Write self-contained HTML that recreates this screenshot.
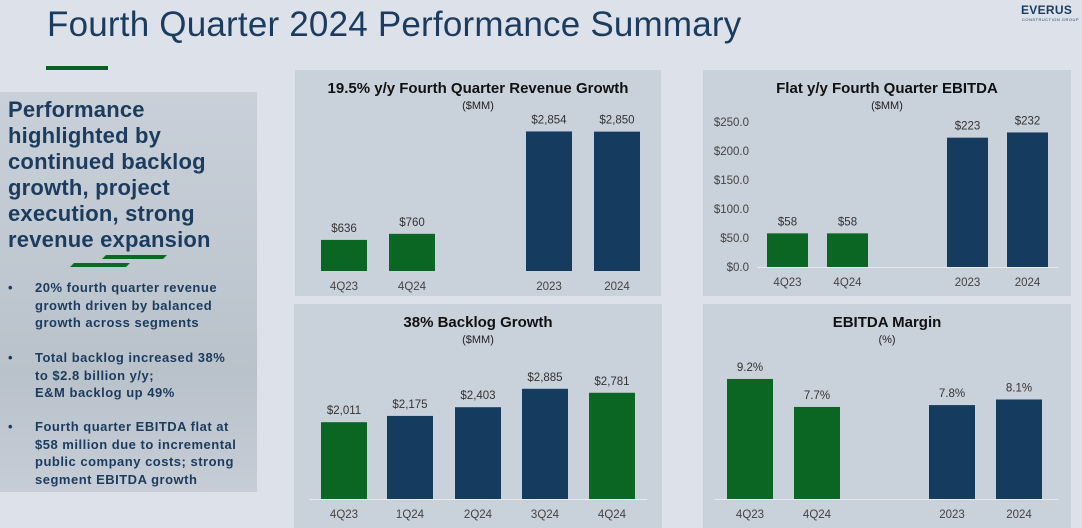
<!DOCTYPE html>
<html><head><meta charset="utf-8"><style>
html,body{margin:0;padding:0}
body{width:1082px;height:528px;background:#dde2ea;position:relative;overflow:hidden;font-family:"Liberation Sans",sans-serif}
#title{position:absolute;left:47px;top:5px;font-size:35px;color:#1b3c5e;white-space:nowrap;letter-spacing:0.2px}
#gl{position:absolute;left:46px;top:66px;width:62px;height:4px;background:#0b5e23}
#logo{position:absolute;left:1021px;top:3px;color:#1b3c5e;font-weight:bold;font-size:12px;letter-spacing:0.3px}
#logo2{position:absolute;left:1022px;top:17px;color:#1b3c5e;font-size:4px;letter-spacing:0.5px}
#left{position:absolute;left:0;top:92px;width:257px;height:400px;background:linear-gradient(180deg,#c9d0d9 0%,#bfc7d0 45%,#b9c1ca 70%,#c6cdd6 100%)}
#lh{position:absolute;left:8px;top:5px;font-size:22px;line-height:26px;font-weight:bold;color:#1b3c5e;letter-spacing:0.2px}
.b{position:absolute;left:8px;font-size:13px;line-height:17.5px;font-weight:bold;color:#1b3c5e;letter-spacing:0.5px}
.b span{position:absolute;left:0}
.b div{margin-left:27px;width:210px}
</style></head><body>
<div id="title">Fourth Quarter 2024 Performance Summary</div>
<div id="gl"></div>
<div id="logo">EVERUS</div>
<div id="logo2">CONSTRUCTION GROUP</div>
<div id="left">
<div id="lh">Performance<br>highlighted by<br>continued backlog<br>growth, project<br>execution, strong<br>revenue expansion</div>
<svg style="position:absolute;left:70px;top:162px" width="100" height="14"><polygon points="36,1 97,1 93,5 32,5" fill="#0b6a22"/><polygon points="4,9 60,9 56,13 0,13" fill="#0b6a22"/></svg>
<div class="b" style="top:187px"><span>•</span><div>20% fourth quarter revenue growth driven by balanced growth across segments</div></div>
<div class="b" style="top:257px"><span>•</span><div>Total backlog increased 38%<br>to $2.8 billion y/y;<br>E&amp;M backlog up 49%</div></div>
<div class="b" style="top:326px"><span>•</span><div>Fourth quarter EBITDA flat at $58 million due to incremental public company costs; strong segment EBITDA growth</div></div>
</div>
<svg id="charts" width="1082" height="528" style="position:absolute;left:0;top:0"></svg>
<script>
const revCats=["4Q23","4Q24","2023","2024"];
const revVals=[636,760,2854,2850];
const revLabels=["$636","$760","$2,854","$2,850"];
const ebCats=["4Q23","4Q24","2023","2024"];
const ebVals=[58,58,223,232];
const ebLabels=["$58","$58","$223","$232"];
const ebTicks=[0,50,100,150,200,250];
const ebTickLabels=["$0.0","$50.0","$100.0","$150.0","$200.0","$250.0"];
const blCats=["4Q23","1Q24","2Q24","3Q24","4Q24"];
const blVals=[2011,2175,2403,2885,2781];
const blLabels=["$2,011","$2,175","$2,403","$2,885","$2,781"];
const mgCats=["4Q23","4Q24","2023","2024"];
const mgVals=[9.2,7.7,7.8,8.1];
const mgLabels=["9.2%","7.7%","7.8%","8.1%"];
const GREEN="#0a6622",NAVY="#153b5e";
const svg=document.getElementById('charts');
const NS="http://www.w3.org/2000/svg";
function mk(tag,attrs,parent){const e=document.createElementNS(NS,tag);for(const k in attrs)e.setAttribute(k,attrs[k]);(parent||svg).appendChild(e);return e;}
function txt(x,y,s,size,fill,weight,anchor,parent){const t=mk('text',{x:x,y:y,'font-size':size,fill:fill,'font-weight':weight||'normal','text-anchor':anchor||'middle','font-family':'Liberation Sans, sans-serif'},parent);t.textContent=s;return t;}
function chart(o){
 const g=mk('g',{});
 
 
 const p=mk('rect',{x:o.px,y:o.py,width:o.pw,height:o.ph,fill:'#c9d1db'},g);
 
 
 const t=txt(o.px+o.pw/2,o.py+23,o.title,15,'#111','bold','middle',g);
 
 
 const st=txt(o.px+o.pw/2,o.py+39,o.sub,11,'#222','normal','middle',g);
 
 
 const y=v=>o.base-(v-o.min)*o.k;
 if(o.axis){const l=mk('line',{x1:o.axis[0],x2:o.axis[1],y1:o.base+0.5,y2:o.base+0.5,stroke:'#e6eaef','stroke-width':1},g);
  }
 if(o.ticks){o.ticks.forEach((tv,i)=>{const tt=txt(o.tickX,y(tv)+4,o.tickLabels[i],11.5,'#444','normal','end',g);
  });}
 o.vals.forEach((v,i)=>{
  const x=o.xs[i],top=y(v);
  const r=mk('rect',{x:x,y:top,width:o.bw,height:o.base-top,fill:o.colors[i]},g);
  
  
  const vl=txt(x+o.bw/2,top-8,o.labels[i],11.5,'#333','normal','middle',g);
  
  
  const cl=txt(x+o.bw/2,o.base+19,o.cats[i],11.5,'#444','normal','middle',g);
  
  
 });
}
chart({name:'revenue-chart',px:295,py:70,pw:366,ph:226,title:'19.5% y/y Fourth Quarter Revenue Growth',sub:'($MM)',cats:revCats,vals:revVals,labels:revLabels,xs:[321,389,526,594],bw:46,base:271,min:0,k:0.0489,colors:[GREEN,GREEN,NAVY,NAVY]});
chart({name:'ebitda-chart',px:703,py:70,pw:368,ph:226,title:'Flat y/y Fourth Quarter EBITDA',sub:'($MM)',cats:ebCats,vals:ebVals,labels:ebLabels,xs:[767,827,947,1007],bw:41,base:267,min:0,k:0.58,colors:[GREEN,GREEN,NAVY,NAVY],ticks:ebTicks,tickLabels:ebTickLabels,tickX:749,axis:[757,1058]});
chart({name:'backlog-chart',px:294,py:304,pw:368,ph:226,title:'38% Backlog Growth',sub:'($MM)',cats:blCats,vals:blVals,labels:blLabels,xs:[321,387,455,522,589],bw:46,base:499,min:0,k:0.0382,colors:[GREEN,NAVY,NAVY,NAVY,GREEN],axis:[309,647]});
chart({name:'ebitda-margin-chart',px:703,py:304,pw:368,ph:226,title:'EBITDA Margin',sub:'(%)',cats:mgCats,vals:mgVals,labels:mgLabels,xs:[727,794,929,996],bw:46,base:499,min:2.77,k:18.67,colors:[GREEN,GREEN,NAVY,NAVY],axis:[714,1058]});
</script>
</body></html>
